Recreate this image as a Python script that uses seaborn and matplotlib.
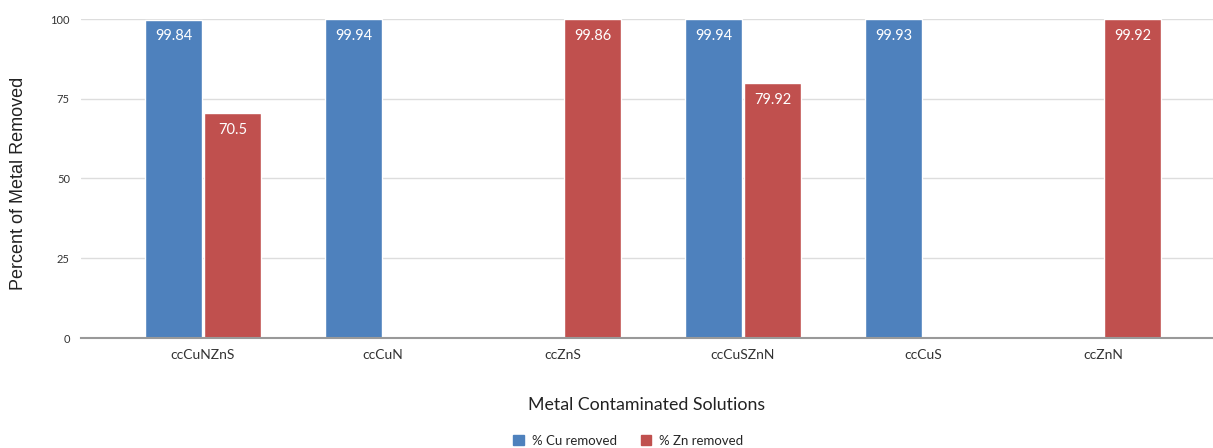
import numpy as np
import pandas as pd
import matplotlib
matplotlib.use("Agg")
import matplotlib.pyplot as plt
import seaborn as sns

# values (NaN = no bar)
solutions = ["ccCuNZnS", "ccCuN", "ccZnS", "ccCuSZnN", "ccCuS", "ccZnN"]
cu_removed = [99.84, 99.94, np.nan, 99.94, 99.93, np.nan]
zn_removed = [70.5, np.nan, 99.86, 79.92, np.nan, 99.92]
series = ["% Cu removed", "% Zn removed"]
colors = ["#4e81bd", "#c0504e"]

df = pd.DataFrame({
    "solution": solutions * 2,
    "series": [series[0]] * len(solutions) + [series[1]] * len(solutions),
    "value": cu_removed + zn_removed,
})

sns.set_style("white")
plt.rcParams["font.family"] = ["Lato", "DejaVu Sans"]

fig = plt.figure(figsize=(12.13, 4.48), dpi=100)
ax = fig.add_axes([81 / 1213, 1 - 338 / 448, 1 - 81 / 1213, (338 - 19) / 448])

sns.barplot(data=df, x="solution", y="value", hue="series", order=solutions,
            hue_order=series, palette=colors, width=0.656, gap=0.035,
            saturation=1, errorbar=None, legend=False, ax=ax)

# values written in white just under the top of each bar
for cont in ax.containers:
    ax.bar_label(cont, fmt="%g", color="white", fontsize=10.5, padding=-17)

ax.set_ylim(0, 100)
ax.set_xlim(-0.678, 5.611)
ax.set_yticks([0, 25, 50, 75, 100])
ax.yaxis.grid(True, color="#dddddd", linewidth=1)
ax.set_axisbelow(True)
for s in ["top", "right", "left"]:
    ax.spines[s].set_visible(False)
ax.spines["bottom"].set_color("#999999")
ax.spines["bottom"].set_linewidth(1.5)
ax.tick_params(axis="y", length=0, labelsize=8, labelcolor="#333333", pad=8)
ax.tick_params(axis="x", length=0, labelsize=10, labelcolor="#333333", pad=8)

ax.set_xlabel("Metal Contaminated Solutions", fontsize=12.8, color="#222222",
              labelpad=26)
ax.set_ylabel("")
fig.text(19 / 1213, 1 - 183 / 448, "Percent of Metal Removed", rotation=90,
         ha="center", va="center", fontsize=13, color="#222222",
         family=["Liberation Sans", "DejaVu Sans"])

handles = [plt.Rectangle((0, 0), 1, 1, color=c) for c in colors]
fig.legend(handles, series, loc="center", bbox_to_anchor=(0.518, 1 - 441 / 448),
           ncol=2, frameon=False, fontsize=9.5, handlelength=0.8,
           handleheight=0.8, handletextpad=0.6, columnspacing=1.8)

fig.savefig("out.png", dpi=100)
